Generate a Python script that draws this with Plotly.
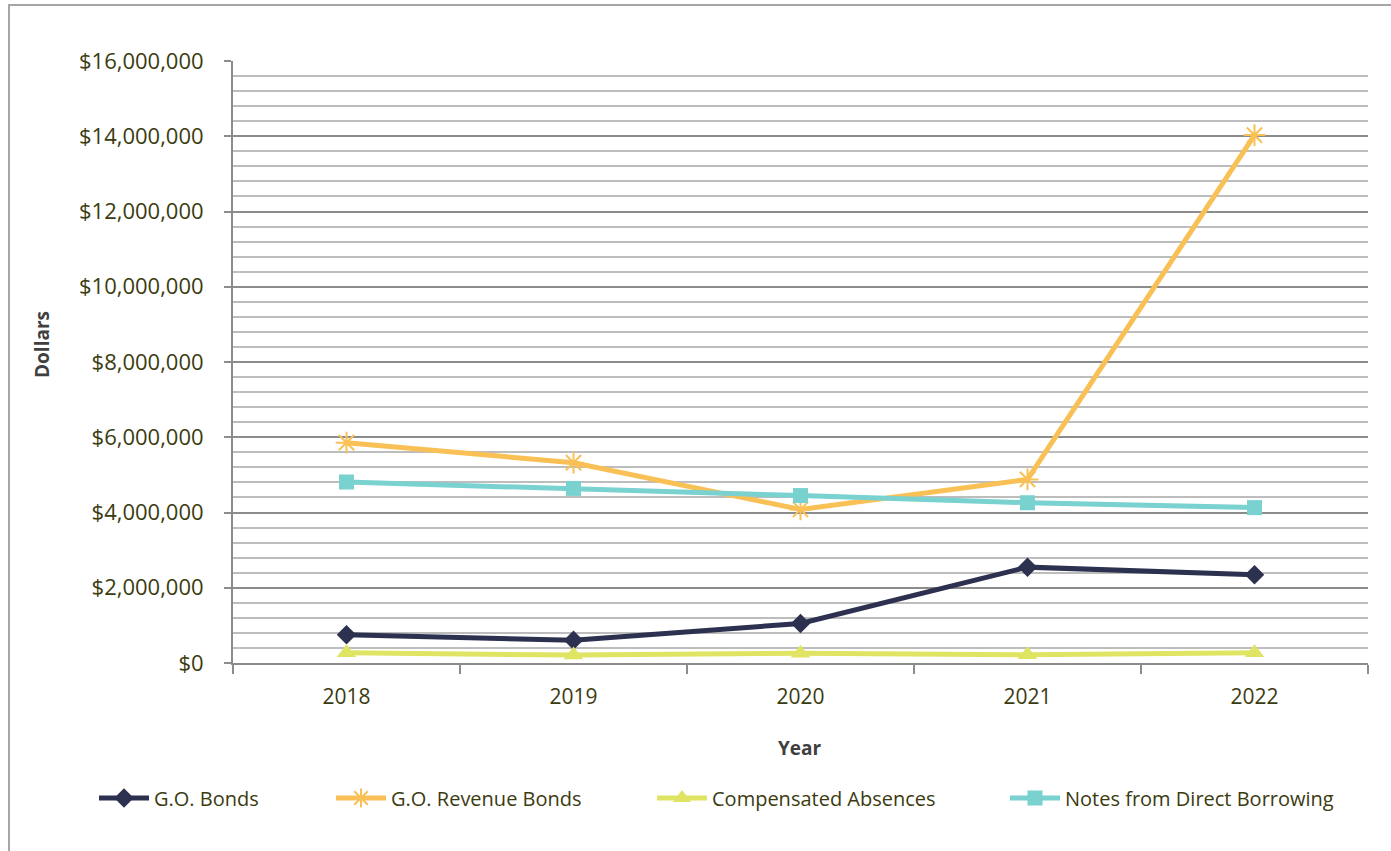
import plotly.graph_objects as go

# Outstanding debt by type, fiscal years 2018-2022
years = ["2018", "2019", "2020", "2021", "2022"]
go_bonds = [750000, 606000, 1050000, 2548000, 2346000]
go_revenue_bonds = [5856000, 5324000, 4080000, 4880000, 14030000]
compensated_absences = [270000, 210000, 260000, 220000, 270000]
notes_direct_borrowing = [4810000, 4640000, 4450000, 4260000, 4130000]

y_ticks = [0, 2000000, 4000000, 6000000, 8000000, 10000000, 12000000, 14000000, 16000000]

W, H = 1391, 851
L, R, T, B = 233, 23, 61, 188
PW, PH = W - L - R, H - T - B

def px_x(p):
    return (p - L) / PW

def px_y(p):
    return (H - B - p) / PH

FONT = "Open Sans"
TEXT = "#3b3b10"

series = [
    ("G.O. Bonds", go_bonds, "#2c3150",
     dict(symbol="diamond", size=15, color="#2c3150"), "legend"),
    ("G.O. Revenue Bonds", go_revenue_bonds, "#f9c055",
     dict(symbol="asterisk-open", size=18, color="#f9c055", line=dict(width=2, color="#f9c055")), "legend2"),
    ("Compensated Absences", compensated_absences, "#dfe462",
     dict(symbol="triangle-up", size=17, color="#dfe462"), "legend3"),
    ("Notes from Direct Borrowing", notes_direct_borrowing, "#79d1d0",
     dict(symbol="square", size=15, color="#79d1d0"), "legend4"),
]

fig = go.Figure()
for name, vals, col, mk, lg in series:
    fig.add_trace(go.Scatter(
        x=years, y=vals, name=name, mode="lines+markers",
        line=dict(color=col, width=5), marker=mk, legend=lg,
    ))

legend_x = [94, 331, 652, 1005]
leg_common = dict(orientation="h", yanchor="middle", xanchor="left",
                  font=dict(family=FONT, size=20, color=TEXT),
                  bgcolor="rgba(0,0,0,0)", itemwidth=50)

fig.update_layout(
    width=W, height=H,
    margin=dict(l=L, r=R, t=T, b=B),
    plot_bgcolor="white", paper_bgcolor="white",
    showlegend=True,
    legend=dict(x=px_x(legend_x[0]), y=px_y(798), **leg_common),
    legend2=dict(x=px_x(legend_x[1]), y=px_y(798), **leg_common),
    legend3=dict(x=px_x(legend_x[2]), y=px_y(798), **leg_common),
    legend4=dict(x=px_x(legend_x[3]), y=px_y(798), **leg_common),
    xaxis=dict(
        type="category", range=[-0.5, 4.5],
        tickson="boundaries", ticks="outside", ticklen=9, tickcolor="#8c8c8c", tickwidth=2,
        showline=True, linecolor="#8c8c8c", linewidth=2,
        showgrid=False, zeroline=False,
        tickfont=dict(family=FONT, size=21, color=TEXT),
        ticklabelstandoff=14,
    ),
    yaxis=dict(
        range=[0, 16000000], tickvals=y_ticks, tickformat="$,.0f",
        ticks="outside", ticklen=7, tickcolor="#8c8c8c", tickwidth=2,
        showline=True, linecolor="#8c8c8c", linewidth=2,
        showgrid=True, gridcolor="#8c8c8c", gridwidth=2,
        zeroline=False,
        minor=dict(dtick=400000, showgrid=True, gridcolor="#bdbdbd", gridwidth=2, ticks=""),
        tickfont=dict(family=FONT, size=22, color=TEXT),
        ticklabelstandoff=16,
    ),
    annotations=[
        dict(text="<b>Dollars</b>", x=px_x(42), y=px_y(345), xref="paper", yref="paper",
             xanchor="center", yanchor="middle",
             textangle=-90, showarrow=False, font=dict(family=FONT, size=19, color="#404040")),
        dict(text="<b>Year</b>", x=px_x(800), y=px_y(748), xref="paper", yref="paper",
             xanchor="center", yanchor="middle",
             showarrow=False, font=dict(family=FONT, size=19, color="#404040")),
    ],
    shapes=[
        dict(type="rect", xref="paper", yref="paper",
             x0=px_x(9), x1=px_x(1420), y0=px_y(900), y1=px_y(5),
             line=dict(color="#a6a6a6", width=2), layer="below"),
    ],
)

fig.write_html("out.html")
